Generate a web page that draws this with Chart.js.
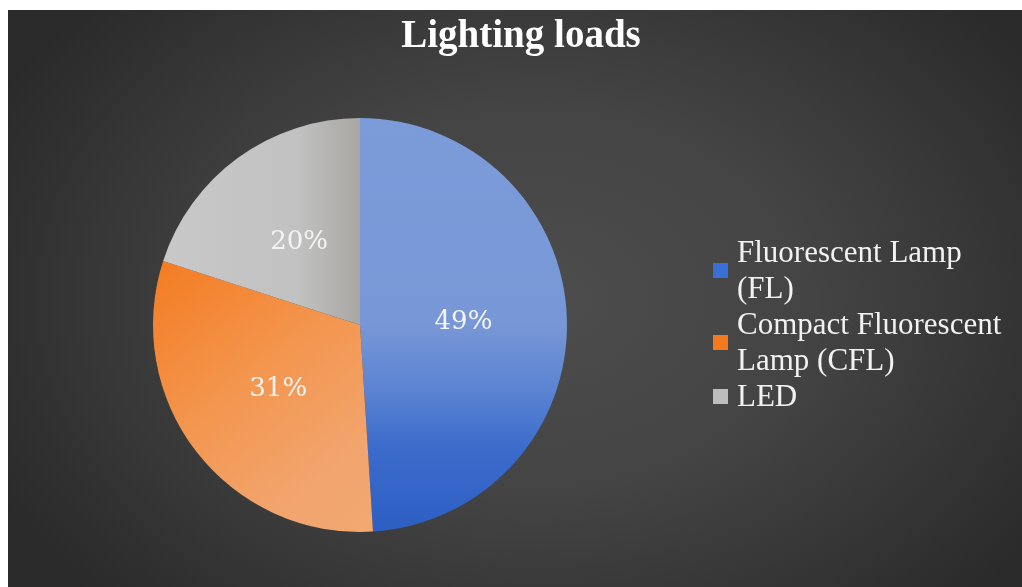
<!DOCTYPE html>
<html>
<head>
<meta charset="utf-8">
<script src="https://cdn.jsdelivr.net/npm/chart.js@4"></script>
<style>
  html, body { margin: 0; padding: 0; background: #fff; }
  #frame {
    position: relative; width: 1022px; height: 587px; overflow: hidden;
  }
  #panel {
    position: absolute; left: 8px; top: 10px; width: 1014px; height: 577px;
    background: radial-gradient(ellipse 60% 75% at 52% 50%, #4d4d4d 0%, #444444 45%, #2a2a2a 100%);
  }
  #graph { position: absolute; left: 0; top: 0; }
  #graph-header {
    position: absolute; left: 521px; top: 14px; transform: translateX(-50%);
    font: bold 39px/39px 'Liberation Serif', serif; color: #ffffff; white-space: nowrap;
  }
  #legend {
    position: absolute; left: 713px; top: 234px; width: 310px;
    font: 31px/36px 'Liberation Serif', serif; color: #f2f2f2;
  }
  .item { display: flex; align-items: center; }
  .swatch { width: 15px; height: 15px; flex: none; margin-right: 9px; }
  .label { width: 280px; }
</style>
</head>
<body>
<div id="frame">
  <div id="panel"></div>
  <canvas id="graph" width="1022" height="587"></canvas>
  <div id="graph-header">Lighting loads</div>
  <div id="legend"></div>
</div>
<script>
const categories = ["Fluorescent Lamp (FL)", "Compact Fluorescent Lamp (CFL)", "LED"];
const shares = [49, 31, 20];
const swatchColors = ["#3a6fd8", "#f47a20", "#bdbdbd"];

// fills for each slice, built against the pie's own geometry
function sliceFill(context) {
    const chart = context.chart;
    const area = chart.chartArea;
    if (!area) return swatchColors[context.dataIndex];
    const c = chart.ctx;
    const cx = (area.left + area.right) / 2;
    const cy = (area.top + area.bottom) / 2;
    const r = Math.min(area.right - area.left, area.bottom - area.top) / 2;
    let g;
    if (context.dataIndex === 0) {
        g = c.createLinearGradient(0, cy - r, 0, cy + r);
        g.addColorStop(0, '#7b9bd9');
        g.addColorStop(0.5, '#7897d6');
        g.addColorStop(0.66, '#5a83d2');
        g.addColorStop(0.8, '#3b6bcb');
        g.addColorStop(1, '#2d5fc4');
    } else if (context.dataIndex === 1) {
        g = c.createLinearGradient(cx - r, cy - 0.35 * r, cx + 0.05 * r, cy + r);
        g.addColorStop(0, '#f47a1f');
        g.addColorStop(0.45, '#f3964f');
        g.addColorStop(0.8, '#f2a56f');
        g.addColorStop(1, '#f2a870');
    } else {
        g = c.createLinearGradient(cx - r, 0, cx, 0);
        g.addColorStop(0, '#c9c9c9');
        g.addColorStop(0.7, '#c1c1c1');
        g.addColorStop(1, '#a8a7a3');
    }
    return g;
}

const percentLabels = {
    id: 'percentLabels',
    afterDatasetsDraw: function(chart) {
        const c = chart.ctx;
        const meta = chart.getDatasetMeta(0);
        const total = shares.reduce((a, b) => a + b, 0);
        c.save();
        c.font = "26px 'DejaVu Serif', serif";
        c.fillStyle = '#f4f4f4';
        c.textAlign = 'center';
        c.textBaseline = 'middle';
        meta.data.forEach((arc, i) => {
            const p = arc.tooltipPosition();
            c.fillText(Math.round(shares[i] / total * 100) + '%', p.x, p.y + 1);
        });
        c.restore();
    }
};

const legend = document.getElementById('legend');
categories.forEach((name, i) => {
    const row = document.createElement('div');
    row.className = 'item';
    const sw = document.createElement('span');
    sw.className = 'swatch';
    sw.style.background = swatchColors[i];
    const tx = document.createElement('span');
    tx.className = 'label';
    tx.textContent = name;
    row.appendChild(sw);
    row.appendChild(tx);
    legend.appendChild(row);
});

const graph = new Chart(document.getElementById('graph'), {
    type: 'pie',
    data: {
        labels: categories,
        datasets: [{
            data: shares,
            backgroundColor: sliceFill,
            borderWidth: 0
        }]
    },
    options: {
        responsive: false,
        animation: false,
        layout: { padding: { left: 153, right: 455, top: 118, bottom: 55 } },
        plugins: {
            legend: { display: false },
            title: { display: false },
            tooltip: { enabled: false }
        }
    },
    plugins: [percentLabels]
});
</script>
</body>
</html>
